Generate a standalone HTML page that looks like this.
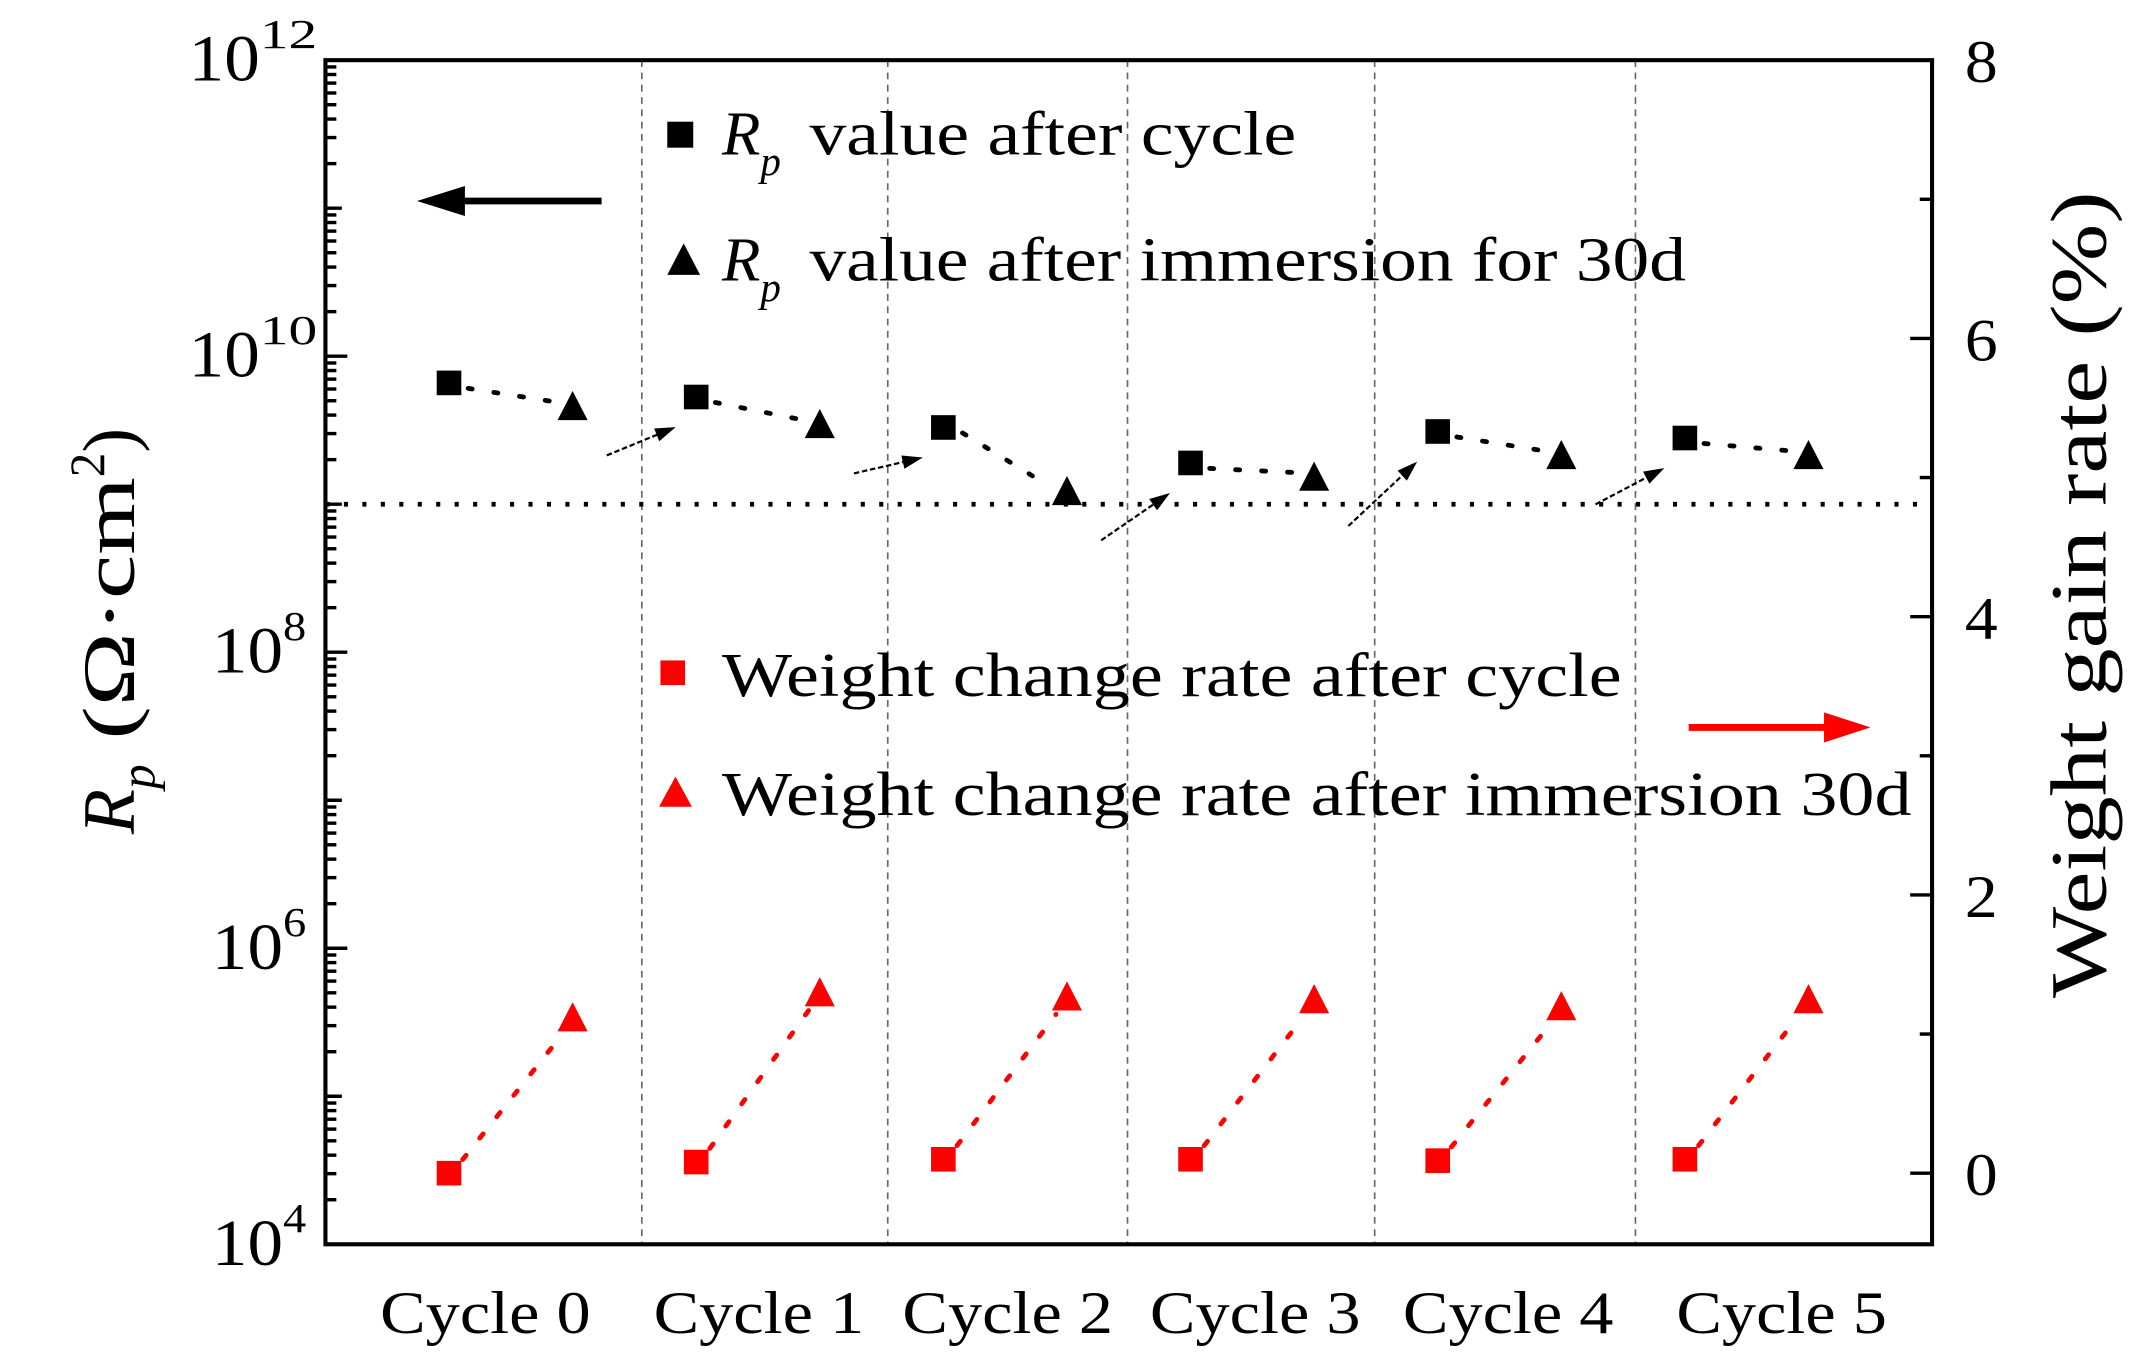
<!DOCTYPE html>
<html><head><meta charset="utf-8"><style>
html,body{margin:0;padding:0;background:#fff;}
svg{display:block;font-family:"Liberation Serif",serif;}
</style></head><body>
<svg id="chart" width="2144" height="1356" viewBox="0 0 1568 991.7" xmlns="http://www.w3.org/2000/svg">
<g id="g"></g>
</svg>
<script>
const categories = ["Cycle 0","Cycle 1","Cycle 2","Cycle 3","Cycle 4","Cycle 5"];
const rpCycle = [6.6e9, 5.3e9, 3.3e9, 1.9e9, 3.1e9, 2.8e9];
const rpImmersion = [4.5e9, 3.4e9, 1.2e9, 1.5e9, 2.1e9, 2.1e9];
const weightCycle = [0, 0.08, 0.1, 0.1, 0.09, 0.1];
const weightImmersion = [1.11, 1.29, 1.26, 1.24, 1.19, 1.24];
const thresholdRp = 1e9;
const separators = [1.56, 3.55, 5.49, 7.49, 9.60];
const leftTickExps = [4, 6, 8, 10, 12];
const rightTicks = [0, 2, 4, 6, 8];

const NS = "http://www.w3.org/2000/svg";
const g = document.getElementById("g");
const L = 238, R = 1413, T = 44, B = 910;
const labelCenters = [355, 555, 737, 918, 1103, 1303];
const xS = i => L + (i + 1) / 13 * (R - L);
const yL = v => B - (Math.log10(v) - 4) / 8 * (B - T);
const yR = v => 858 - v * 101.75;
function el(tag, attrs, parent) {
  const e = document.createElementNS(NS, tag);
  for (const k in attrs) e.setAttribute(k, attrs[k]);
  (parent || g).appendChild(e);
  return e;
}
function txt(x, y, s, size, extra) {
  const t = el("text", Object.assign({x: x, y: y, "font-size": size}, extra || {}));
  t.innerHTML = s;
  return t;
}
separators.forEach(s => {
  const l = el("line", {x1: xS(s), x2: xS(s), y1: T, y2: B, stroke: "#666", "stroke-width": 1.2, "stroke-dasharray": "5,4"});
  
  
});
const th = el("line", {x1: L, x2: R, y1: yL(thresholdRp), y2: yL(thresholdRp), stroke: "#000", "stroke-width": 3.5, "stroke-dasharray": "3,10.5"});


const fr = el("rect", {x: L, y: T, width: R - L, height: B - T, fill: "none", stroke: "#000", "stroke-width": 3});


for (let e = 4; e < 12; e++) {
  for (let m = 1; m < 10; m++) {
    const y = yL(m * Math.pow(10, e));
    const len = m === 1 ? (e % 2 === 0 ? 16 : 12) : 8;
    el("line", {x1: L, x2: L + len, y1: y, y2: y, stroke: "#000", "stroke-width": 2.5});
  }
}
el("line", {x1: L, x2: L + 16, y1: T, y2: T, stroke: "#000", "stroke-width": 2.5});
leftTickExps.forEach(e => {
  const two = String(e).length > 1;
  const supW = two ? 42 : 17;
  const x0 = two ? L - 100 : L - 83;
  const t = txt(x0, yL(Math.pow(10, e)) + 15, "<tspan textLength='52' lengthAdjust='spacingAndGlyphs'>10</tspan><tspan dy='-24' font-size='30' textLength='" + supW + "' lengthAdjust='spacingAndGlyphs'>" + e + "</tspan>", 48);
  
  
});
for (let v = 0; v <= 8; v++) {
  const y = yR(v);
  el("line", {x1: R, x2: R - (v % 2 === 0 ? 16 : 9), y1: y, y2: y, stroke: "#000", "stroke-width": 2.5});
}
rightTicks.forEach(v => {
  const t = txt(R + 24, yR(v) + 16, String(v), 44, {textLength: 24, lengthAdjust: "spacingAndGlyphs"});
  
  
});
categories.forEach((c, i) => {
  const t = txt(labelCenters[i] - 77, 975, c, 44, {textLength: 154, lengthAdjust: "spacingAndGlyphs"});
  
  
});
function dotted(x1, y1, x2, y2, color, dash) {
  el("line", {x1: x1, y1: y1, x2: x2, y2: y2, stroke: color, "stroke-width": 3.5, "stroke-dasharray": dash, "stroke-linecap": "round"});
}
function square(x, y, color, s) {
  s = s || 18;
  return el("rect", {x: x - s / 2, y: y - s / 2, width: s, height: s, fill: color});
}
function tri(x, y, color, s) {
  s = s || 22;
  return el("polygon", {points: `${x},${y - s * 0.55} ${x - s / 2},${y + s * 0.42} ${x + s / 2},${y + s * 0.42}`, fill: color});
}
categories.forEach((c, i) => {
  const xa = xS(2 * i), xb = xS(2 * i + 1);
  dotted(xa + 14, yL(rpCycle[i]) + 4, xb - 12, yL(rpImmersion[i]) - 4, "#000", "3,16");
  dotted(xa + 10, yR(weightCycle[i]) - 10, xb - 8, yR(weightImmersion[i]) + 12, "#f00", "4,16");
  const a = square(xa, yL(rpCycle[i]), "#000");
  
  
  const b = tri(xb, yL(rpImmersion[i]), "#000");
  
  
  const cc = square(xa, yR(weightCycle[i]), "#f00");
  
  
  const d = tri(xb, yR(weightImmersion[i]), "#f00");
  
  
  if (i < categories.length - 1) {
    const x1 = xb + 25, y1 = yL(rpImmersion[i]) + 35;
    const x2 = xS(2 * i + 2) - 15, y2 = yL(rpCycle[i + 1]) + 22;
    const ang = Math.atan2(y2 - y1, x2 - x1);
    el("line", {x1: x1, y1: y1, x2: x2 - 12 * Math.cos(ang), y2: y2 - 12 * Math.sin(ang), stroke: "#000", "stroke-width": 1.6, "stroke-dasharray": "4,2"});
    const p = el("polygon", {points: `${x2},${y2} ${x2 - 15 * Math.cos(ang) + 5 * Math.sin(ang)},${y2 - 15 * Math.sin(ang) - 5 * Math.cos(ang)} ${x2 - 15 * Math.cos(ang) - 5 * Math.sin(ang)},${y2 - 15 * Math.sin(ang) + 5 * Math.cos(ang)}`, fill: "#000"});
    
    
  }
});
</script>
<svg width="2144" height="1356" viewBox="0 0 1568 991.7" style="position:absolute;left:0;top:0;font-family:'Liberation Serif',serif;">
<g>
<rect x="488" y="89" width="19" height="19" fill="#000"/>
<text x="528" y="113" font-size="46"><tspan font-style="italic">R</tspan><tspan font-style="italic" font-size="30" dy="15">p</tspan><tspan dy="-15" x="592" textLength="356" lengthAdjust="spacingAndGlyphs">value after cycle</tspan></text>
<polygon points="500,178 488,201 512,201" fill="#000"/>
<text x="528" y="205" font-size="46"><tspan font-style="italic">R</tspan><tspan font-style="italic" font-size="30" dy="15">p</tspan><tspan dy="-15" x="592" textLength="641" lengthAdjust="spacingAndGlyphs">value after immersion for 30d</tspan></text>
</g>
<g>
<line x1="440" y1="147" x2="335" y2="147" stroke="#000" stroke-width="5"/>
<polygon points="305,147 340,136 340,158" fill="#000"/>
</g>
<g>
<rect x="483" y="483" width="18" height="18" fill="#f00"/>
<text x="528" y="509" font-size="46" textLength="658" lengthAdjust="spacingAndGlyphs">Weight change rate after cycle</text>
<polygon points="494,568 482,590 506,590" fill="#f00"/>
<text x="528" y="596" font-size="46" textLength="870" lengthAdjust="spacingAndGlyphs">Weight change rate after immersion 30d</text>
</g>
<g>
<line x1="1235" y1="532" x2="1340" y2="532" stroke="#f00" stroke-width="5"/>
<polygon points="1368,532 1334,521 1334,543" fill="#f00"/>
</g>
<text transform="translate(98,610) rotate(-90)" font-size="54"><tspan font-style="italic">R</tspan><tspan font-style="italic" font-size="36" dy="15">p</tspan><tspan dy="-15" textLength="210" lengthAdjust="spacingAndGlyphs"> (Ω·cm</tspan><tspan font-size="36" dy="-22">2</tspan><tspan dy="22">)</tspan></text>
<text transform="translate(1540,730) rotate(-90)" font-size="58" textLength="590" lengthAdjust="spacingAndGlyphs">Weight gain rate (%)</text>
</svg>
</body></html>
